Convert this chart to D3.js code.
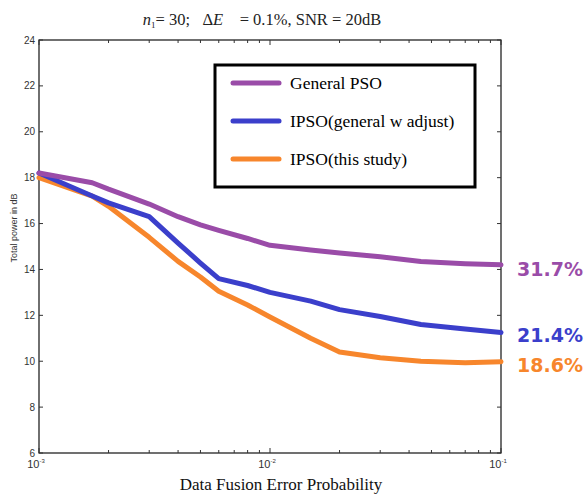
<!DOCTYPE html>
<html>
<head>
<meta charset="utf-8">
<script src="https://cdn.jsdelivr.net/npm/d3@7"></script>
<style>
  body { margin: 0; background: #fff; }
  svg { display: block; }
</style>
</head>
<body>
<div id="chart"></div>
<script>
// error probability points (x axis)
var probs = [0.001, 0.0017, 0.002, 0.003, 0.004, 0.005, 0.006, 0.008, 0.01, 0.015, 0.02, 0.03, 0.045, 0.07, 0.1];

var generalPSO = [18.2, 17.78, 17.5, 16.85, 16.3, 15.94, 15.7, 15.35, 15.05, 14.85, 14.72, 14.55, 14.35, 14.25, 14.2];
var ipsoAdjust = [18.2, 17.2, 16.9, 16.3, 15.15, 14.28, 13.6, 13.3, 13.0, 12.62, 12.25, 11.95, 11.6, 11.4, 11.25];
var ipsoStudy  = [18.0, 17.2, 16.75, 15.4, 14.35, 13.67, 13.05, 12.45, 11.93, 11.0, 10.4, 10.15, 10.0, 9.93, 9.98];

var seriesNames = ["General PSO", "IPSO(general w adjust)", "IPSO(this study)"];
var endLabels = ["31.7%", "21.4%", "18.6%"];
var colors = ["#9a4ca8", "#3b3fcb", "#f7862c"];

var yTicks = [6, 8, 10, 12, 14, 16, 18, 20, 22, 24];
var xMajor = [0.001, 0.01, 0.1];
var xLabelExp = ["-3", "-2", "-1"];

var W = 584, H = 496;
var margin = {top: 40, right: 83, bottom: 43, left: 39},
    width = W - margin.left - margin.right,
    height = H - margin.top - margin.bottom;

var svg = d3.select("#chart")
  .append("svg")
  .attr("width", W)
  .attr("height", H);

var canvas = svg.append("g")
  .attr("transform", "translate(" + margin.left + "," + margin.top + ")");

var x = d3.scaleLog().domain([0.001, 0.1]).range([0, width]);
var y = d3.scaleLinear().domain([6, 24]).range([height, 0]);

// minor ticks on log axis
var xMinor = [];
[0.001, 0.01].forEach(function(b) {
  for (var k = 2; k <= 9; k++) xMinor.push(b * k);
});

// frame
canvas.append("rect")
  .attr("width", width).attr("height", height)
  .attr("fill", "none").attr("stroke", "#111").attr("stroke-width", 1.2);

// ticks (inward, on all four sides like matlab)
var tk = canvas.append("g").attr("stroke", "#333").attr("stroke-width", 1);
yTicks.forEach(function(v) {
  tk.append("line").attr("x1", 0).attr("x2", 4).attr("y1", y(v)).attr("y2", y(v));
  tk.append("line").attr("x1", width).attr("x2", width - 4).attr("y1", y(v)).attr("y2", y(v));
});
xMinor.concat(xMajor).forEach(function(v) {
  var len = xMajor.indexOf(v) >= 0 ? 5 : 3;
  tk.append("line").attr("x1", x(v)).attr("x2", x(v)).attr("y1", height).attr("y2", height - len);
  tk.append("line").attr("x1", x(v)).attr("x2", x(v)).attr("y1", 0).attr("y2", len);
});

// y tick labels
canvas.selectAll(".ylab")
  .data(yTicks)
  .enter().append("text")
  .attr("x", -4)
  .attr("y", function(d) { return y(d); })
  .attr("dy", "0.35em")
  .attr("text-anchor", "end")
  .attr("font-family", "Liberation Sans, Arial, sans-serif")
  .attr("font-size", 10)
  .attr("fill", "#333")
  .text(function(d) { return d; });

// x tick labels 10^n
xMajor.forEach(function(v, i) {
  var t = canvas.append("text")
    .attr("x", x(v) - 3)
    .attr("y", height + 15)
    .attr("text-anchor", "middle")
    .attr("font-family", "Liberation Sans, Arial, sans-serif")
    .attr("font-size", 11)
    .attr("fill", "#333");
  t.append("tspan").text("10");
  t.append("tspan").attr("dy", -5).attr("font-size", 6).text(xLabelExp[i]);
});

// lines
var allSeries = [generalPSO, ipsoAdjust, ipsoStudy];
var line = d3.line()
  .x(function(d, i) { return x(probs[i]); })
  .y(function(d) { return y(d); });

[2, 1, 0].forEach(function(s) {
  canvas.append("path")
    .datum(allSeries[s])
    .attr("d", line)
    .attr("fill", "none")
    .attr("stroke", colors[s])
    .attr("stroke-width", 5)
    .attr("stroke-linejoin", "round")
    .attr("stroke-linecap", "round");
});

// end labels
allSeries.forEach(function(s, i) {
  canvas.append("text")
    .attr("x", width + 16)
    .attr("y", y(s[s.length - 1]) + (i == 1 ? 3 : 4))
    .attr("dy", "0.35em")
    .attr("font-family", "DejaVu Sans, Verdana, sans-serif")
    .attr("font-weight", "bold")
    .attr("font-size", 19)
    .attr("fill", colors[i])
    .text(endLabels[i]);
});

// legend
var lg = svg.append("g").attr("transform", "translate(215,65)");
lg.append("rect")
  .attr("width", 260).attr("height", 122)
  .attr("fill", "#fff").attr("stroke", "#000").attr("stroke-width", 3);
seriesNames.forEach(function(n, i) {
  var ly = 18 + i * 38;
  lg.append("line")
    .attr("x1", 18).attr("x2", 64).attr("y1", ly).attr("y2", ly)
    .attr("stroke", colors[i]).attr("stroke-width", 5).attr("stroke-linecap", "round");
  lg.append("text")
    .attr("x", 75).attr("y", ly).attr("dy", "0.35em")
    .attr("font-family", "Liberation Serif, Times New Roman, serif")
    .attr("font-size", 17.5)
    .attr("fill", "#000")
    .text(n);
});

// title
var title = svg.append("text")
  .attr("x", 262).attr("y", 25)
  .attr("text-anchor", "middle")
  .attr("font-family", "Liberation Serif, Times New Roman, serif")
  .attr("font-size", 16.5)
  .attr("fill", "#222")
  .style("white-space", "pre");
title.append("tspan").attr("font-style", "italic").text("n");
title.append("tspan").attr("font-size", 9).attr("dy", 3).text("1");
title.append("tspan").attr("dy", -3).text("= 30;   \u0394");
title.append("tspan").attr("font-style", "italic").text("E");
title.append("tspan").text("    = 0.1%, SNR = 20dB");

// axis labels
svg.append("text")
  .attr("x", 281).attr("y", 490)
  .attr("text-anchor", "middle")
  .attr("font-family", "Liberation Serif, Times New Roman, serif")
  .attr("font-size", 17)
  .attr("fill", "#111")
  .text("Data Fusion Error Probability");

svg.append("text")
  .attr("transform", "translate(17,228) rotate(-90)")
  .attr("text-anchor", "middle")
  .attr("font-family", "Liberation Sans, Arial, sans-serif")
  .attr("font-size", 9)
  .attr("fill", "#333")
  .text("Total power in dB");
</script>
</body>
</html>
